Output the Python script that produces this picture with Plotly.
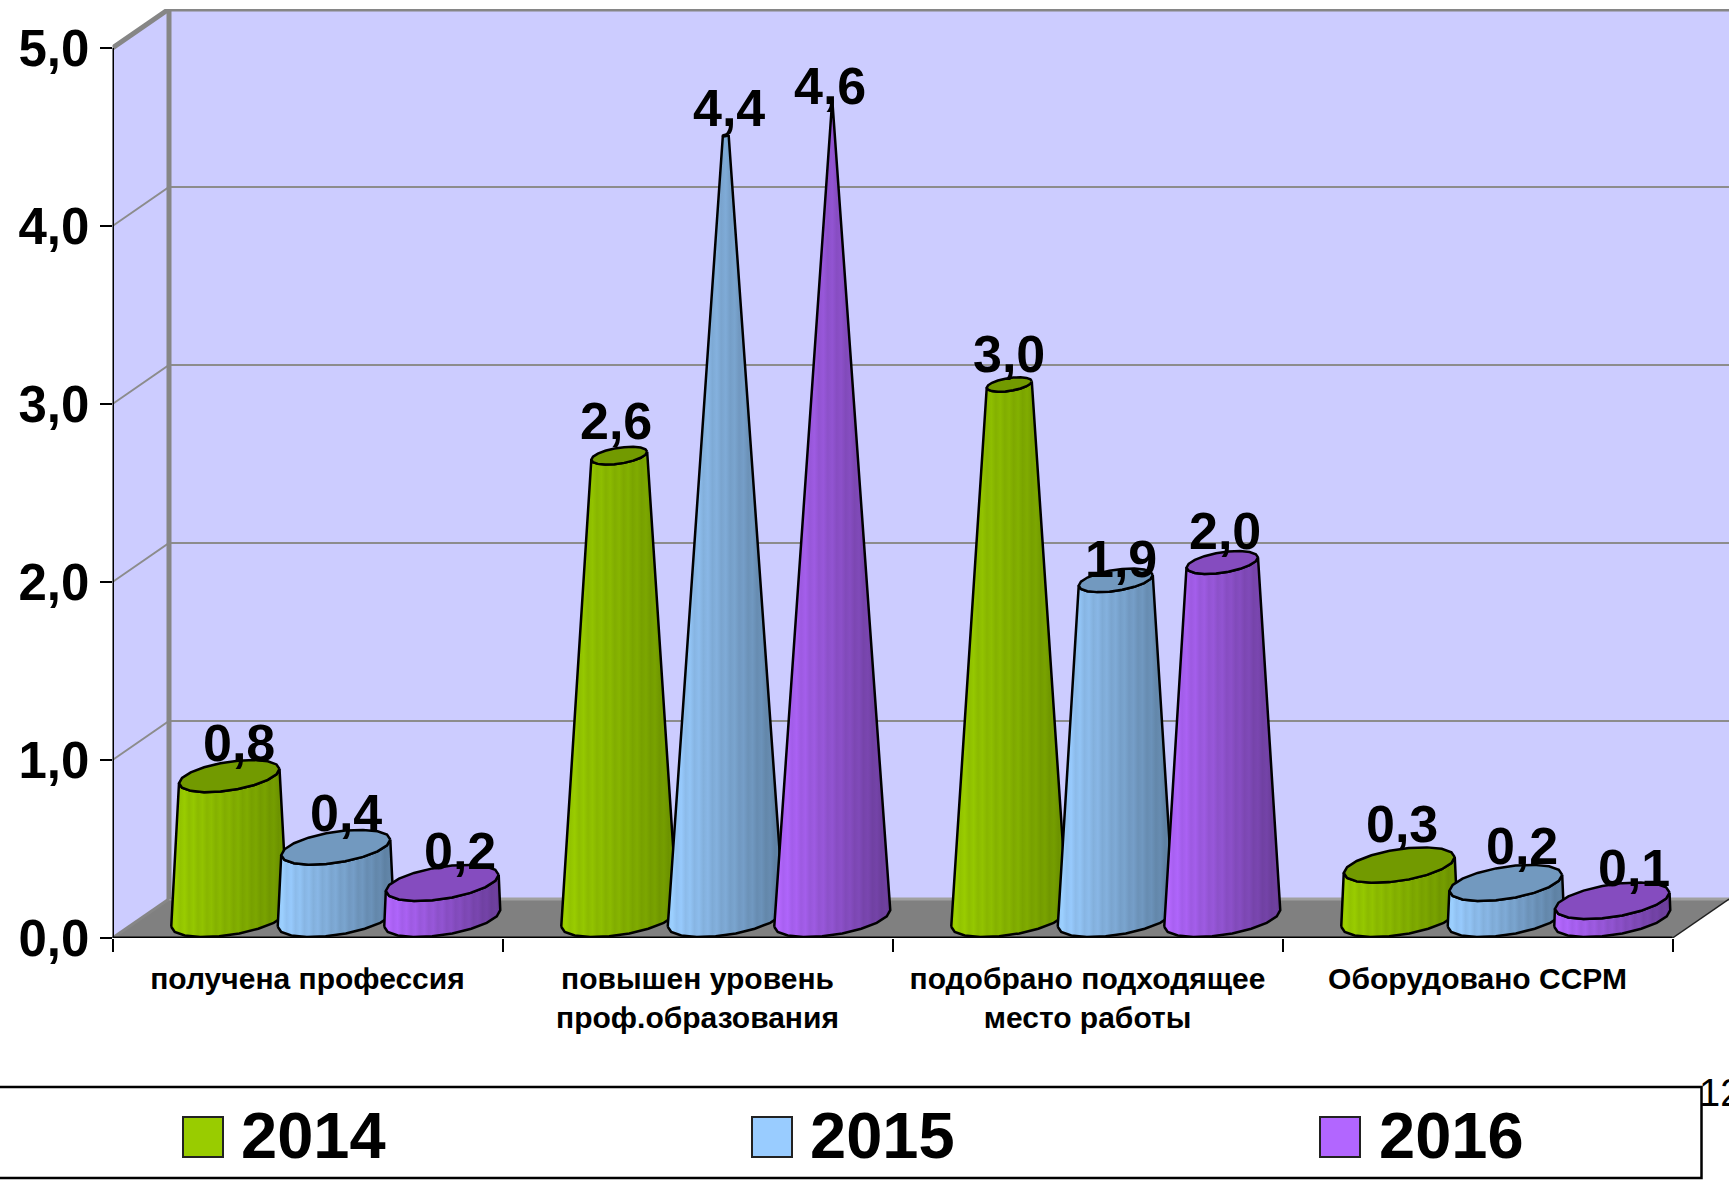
import math
import plotly.graph_objects as go

categories = ["получена профессия", "повышен уровень<br>проф.образования",
              "подобрано подходящее<br>место работы", "Оборудовано ССРМ"]
series_names = ["2014", "2015", "2016"]
values_2014 = [0.8, 2.6, 3.0, 0.3]
values_2015 = [0.4, 4.4, 1.9, 0.2]
values_2016 = [0.2, 4.6, 2.0, 0.1]
y_ticks = [0, 1, 2, 3, 4, 5]
y_tick_labels = ["0,0", "1,0", "2,0", "3,0", "4,0", "5,0"]

W, H = 1729, 1181
X0, Y0, YTOP = 112.5, 938.0, 9.0     # page pixels of the axes
PX_CAT, PX_VAL = 390.0, 178.0        # pixels per category / per unit
DEPTH_X, DEPTH_Y = 56.5, 39.0        # oblique depth of the box, pixels
XMAX = (W - X0) / PX_CAT
YMAX = (Y0 - YTOP) / PX_VAL
dx, dy = DEPTH_X / PX_CAT, DEPTH_Y / PX_VAL
GROUP_STEP = 106.5 / PX_CAT
BASE_R = 58.0
APEX = 4.6
TAPER = 1.15
WALL, FLOOR, EDGE = "#CCCCFF", "#808080", "#868686"
FONT = "Liberation Sans"

styles = [
    dict(light=(153, 204, 0), dark=(108, 146, 0), top="#729A00", swatch="#99CC00"),
    dict(light=(153, 204, 255), dark=(92, 126, 160), top="#7299BF", swatch="#99CCFF"),
    dict(light=(178, 102, 255), dark=(104, 60, 150), top="#854CBF", swatch="#B266FF"),
]
# nudges of the value labels relative to the cone top, page pixels
label_dx = [[10, -3.6, 0, 3], [10, 3, 5, 16], [18, -2, 3, 22]]
label_dy = [[14.5, 15.7, 12, 22], [15.6, 8, 2, 18], [13, -5, 12.5, 13.7]]


def ramp(st):
    stops, n = [], 26
    for i in range(n + 1):
        t = i / n
        k = 1.0 + (0.035 if i % 2 else -0.025)
        c = [min(255, round((a + (b - a) * t) * k)) for a, b in zip(st["light"], st["dark"])]
        stops.append([t, f"rgb({c[0]},{c[1]},{c[2]})"])
    return stops


def ring_point(cx, cy, r, th):
    return (cx + r * (0.895 * math.cos(th) + 0.447 * math.sin(th)) / PX_CAT,
            cy + r * 0.32 * math.sin(th) / PX_VAL)


TH_R = math.atan2(0.447, 0.895)
SEG = 9

fig = go.Figure()


def poly(xs, ys, fill=None, line=None, width=0, **kw):
    fig.add_trace(go.Scatter(x=xs, y=ys, mode="lines", showlegend=False, hoverinfo="skip",
                             fill="toself" if fill else None, fillcolor=fill,
                             line=dict(color=line or "rgba(0,0,0,0)", width=width), **kw))


# walls and floor
poly([dx, XMAX, XMAX, dx, dx], [dy, dy, YMAX, YMAX, dy], fill=WALL)
poly([0, dx, dx, 0, 0], [0, dy, YMAX, 5, 0], fill=WALL)
poly([0, 4, 4 + dx, dx, 0], [0, 0, dy, dy, 0], fill=FLOOR)
for v in y_ticks[1:-1]:
    poly([0, dx, XMAX], [v, v + dy, v + dy], line="#8C8C8C", width=2)
poly([dx, XMAX], [dy, dy], line="#A0A0A0", width=3)
poly([0, dx], [0, dy], line=EDGE, width=3)
poly([0, dx, XMAX], [5, 5 + dy, 5 + dy], line=EDGE, width=5)
poly([dx, dx], [dy, 5 + dy], line=EDGE, width=5)
poly([4, 4 + dx], [0, dy], line="#202020", width=1.5)
poly([0, 0], [0, 5], line="#000000", width=3)
poly([0, 4], [0, 0], line="#000000", width=3)

# cones
annotations = []
all_values = [values_2014, values_2015, values_2016]
for c in range(len(categories)):
    for s, vals in enumerate(all_values):
        v = vals[c]
        st = styles[s]
        cx = c + 0.5 + (s - 1) * GROUP_STEP + dx / 2
        base_y, top_y = dy / 2, v + dy / 2
        r_top = BASE_R * max(1 - (v / APEX) ** TAPER, 0.0)
        arc = [math.pi + TH_R + math.pi * i / SEG for i in range(SEG + 1)]
        b = [ring_point(cx, base_y, BASE_R, t) for t in arc]
        t_pts = [ring_point(cx, top_y, r_top, t) for t in reversed(arc)]
        pts = b + t_pts + [b[0]]
        fig.add_trace(go.Scatter(
            x=[p[0] for p in pts], y=[p[1] for p in pts], mode="lines", fill="toself",
            fillgradient=dict(type="horizontal", colorscale=ramp(st)),
            line=dict(color="#000000", width=2.5), showlegend=False, hoverinfo="skip"))
        ring = [ring_point(cx, top_y, r_top, TH_R + math.pi * i / SEG) for i in range(2 * SEG + 1)]
        poly([p[0] for p in ring], [p[1] for p in ring], fill=st["top"], line="#000000", width=2.5)
        annotations.append(dict(
            x=cx, y=top_y, xref="x", yref="y", text=f"{v:.1f}".replace(".", ","), showarrow=False,
            xanchor="center", yanchor="middle", xshift=label_dx[s][c], yshift=label_dy[s][c] + 19,
            font=dict(family=FONT, size=52, color="#000000", weight=700)))

# legend, page number
shapes = [dict(type="rect", xref="paper", yref="paper", x0=-0.01, x1=1701.5 / W,
               y0=1 - 1178 / H, y1=1 - 1087 / H, line=dict(color="#000000", width=2.5),
               fillcolor="#FFFFFF", layer="below")]
sw_x = [183, 752, 1320]
tx_x = [239, 808, 1377]
for s, name in enumerate(series_names):
    shapes.append(dict(type="rect", xref="paper", yref="paper", x0=sw_x[s] / W, x1=(sw_x[s] + 40) / W,
                       y0=1 - 1157 / H, y1=1 - 1117 / H, fillcolor=styles[s]["swatch"],
                       line=dict(color="#222222", width=2)))
    annotations.append(dict(x=tx_x[s] / W, y=1 - 1135 / H, xref="paper", yref="paper", text=name,
                            showarrow=False, xanchor="left", yanchor="middle",
                            font=dict(family=FONT, size=65, color="#000000", weight=700)))
annotations.append(dict(x=1697 / W, y=1 - 1093 / H, xref="paper", yref="paper", text="12", showarrow=False,
                        xanchor="left", yanchor="middle", font=dict(family=FONT, size=38, color="#000000")))

x_domain = [X0 / W, 1]
fig.update_layout(
    width=W, height=H, margin=dict(l=0, r=0, t=0, b=0, pad=0), autosize=False,
    paper_bgcolor="#FFFFFF", plot_bgcolor="#FFFFFF", showlegend=False,
    shapes=shapes, annotations=annotations,
    xaxis=dict(domain=x_domain, range=[0, XMAX], tickmode="array", automargin=False,
               tickvals=[i + 0.5 for i in range(len(categories))], ticktext=categories,
               ticks="outside", ticklen=14, tickcolor="rgba(0,0,0,0)", showgrid=False, zeroline=False,
               tickangle=0, tickfont=dict(family=FONT, size=30, color="#000000", weight=700)),
    xaxis2=dict(domain=x_domain, range=[0, XMAX], overlaying="x", anchor="y", side="bottom", automargin=False,
                tickmode="array", tickvals=list(range(len(categories) + 1)), showticklabels=False,
                ticks="outside", ticklen=13, tickwidth=2, tickcolor="#000000", showgrid=False, zeroline=False),
    yaxis=dict(domain=[1 - Y0 / H, 1 - YTOP / H], range=[0, YMAX], tickmode="array", tickvals=y_ticks,
               ticktext=y_tick_labels, ticks="outside", ticklen=12, tickwidth=2, tickcolor="#000000",
               showgrid=False, zeroline=False, automargin=False,
               tickfont=dict(family=FONT, size=51, color="#000000", weight=700)),
)
fig.add_trace(go.Scatter(x=[0], y=[0], xaxis="x2", yaxis="y", mode="none", showlegend=False, hoverinfo="skip"))

fig.write_html("out.html", config=dict(displayModeBar=False),
               post_script="document.body.style.margin='0';document.body.style.overflow='hidden';")
